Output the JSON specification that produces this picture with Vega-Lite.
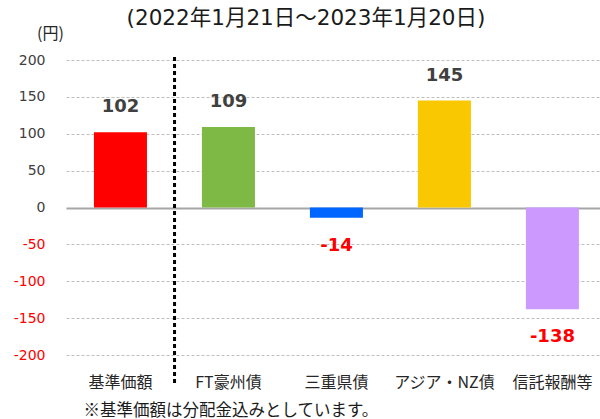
{
  "$schema": "https://vega.github.io/schema/vega-lite/v6.json",
  "width": 534,
  "height": 295,
  "autosize": {"type": "none"},
  "padding": {"top": 60, "left": 66, "right": 0, "bottom": 64},
  "background": "white",
  "title": {
    "text": "(2022年1月21日～2023年1月20日)",
    "font": "DejaVu Sans, Noto Sans CJK JP",
    "fontSize": 21.5,
    "fontWeight": "normal",
    "color": "#1a1a1a",
    "anchor": "middle",
    "dx": -27,
    "offset": -4
  },
  "config": {
    "view": {"stroke": null},
    "axis": {"labelFont": "DejaVu Sans, Noto Sans CJK JP", "titleFont": "Noto Sans CJK JP"}
  },
  "datasets": {
    "bars": [
      {"item": "基準価額", "value": 102},
      {"item": "FT豪州債", "value": 109},
      {"item": "三重県債", "value": -14},
      {"item": "アジア・NZ債", "value": 145},
      {"item": "信託報酬等", "value": -138}
    ],
    "divider": [
      {"item": "基準価額", "top": 204, "bottom": -238}
    ]
  },
  "layer": [
    {
      "data": {"name": "bars"},
      "mark": {"type": "bar"},
      "encoding": {
        "x": {
          "field": "item",
          "type": "nominal",
          "sort": null,
          "scale": {"paddingInner": 0.509, "paddingOuter": 0.227, "align": 0.57},
          "axis": {
            "title": "※基準価額は分配金込みとしています。",
            "titleFont": "Noto Sans CJK JP",
            "titleFontSize": 16.5,
            "titleFontWeight": "normal",
            "titleColor": "#1a1a1a",
            "titleAnchor": "start",
            "titleAlign": "left",
            "titleBaseline": "middle",
            "titleX": 17,
            "titleY": 55,
            "labelAngle": 0,
            "labelFont": "Noto Sans CJK JP",
            "labelFontSize": 16,
            "labelColor": "#262626",
            "labelPadding": 27,
            "labelBaseline": "middle",
            "ticks": false,
            "domain": false,
            "grid": false
          }
        },
        "y": {
          "field": "value",
          "type": "quantitative",
          "scale": {"domain": [-200, 200], "nice": false},
          "axis": {
            "values": [-200, -150, -100, -50, 0, 50, 100, 150, 200],
            "tickCount": 9,
            "labelOverlap": false,
            "labelExpr": "'' + datum.value",
            "title": "(円)",
            "titleAngle": 0,
            "titleFont": "Noto Sans CJK JP",
            "titleFontSize": 16,
            "titleFontWeight": "normal",
            "titleColor": "#262626",
            "titleAlign": "center",
            "titleBaseline": "middle",
            "titleX": -16,
            "titleY": -27,
            "labelFontSize": 14,
            "labelPadding": 21,
            "labelColor": {"condition": {"test": "datum.value < 0", "value": "#FF0000"}, "value": "#404040"},
            "ticks": false,
            "domain": false,
            "grid": true,
            "gridColor": {"condition": {"test": "datum.value === 0", "value": "#A6A6A6"}, "value": "#BFBFBF"},
            "gridDash": {"condition": {"test": "datum.value === 0", "value": []}, "value": [3, 2]},
            "gridWidth": {"condition": {"test": "datum.value === 0", "value": 2}, "value": 1}
          }
        },
        "color": {
          "field": "item",
          "type": "nominal",
          "scale": {
            "domain": ["基準価額", "FT豪州債", "三重県債", "アジア・NZ債", "信託報酬等"],
            "range": ["#FF0000", "#7DB944", "#0066FF", "#F9C800", "#CC99FF"]
          },
          "legend": null
        }
      }
    },
    {
      "data": {"name": "bars"},
      "transform": [{"filter": "datum.value >= 0"}],
      "mark": {"type": "text", "font": "DejaVu Sans", "fontSize": 18, "fontWeight": "bold", "color": "#404040", "baseline": "middle", "dy": -25},
      "encoding": {
        "x": {"field": "item", "type": "nominal", "sort": null},
        "y": {"field": "value", "type": "quantitative"},
        "text": {"field": "value", "type": "nominal"}
      }
    },
    {
      "data": {"name": "bars"},
      "transform": [{"filter": "datum.value < 0"}],
      "mark": {"type": "text", "font": "DejaVu Sans", "fontSize": 18, "fontWeight": "bold", "color": "#FF0000", "baseline": "middle", "dy": 28},
      "encoding": {
        "x": {"field": "item", "type": "nominal", "sort": null},
        "y": {"field": "value", "type": "quantitative"},
        "text": {"field": "value", "type": "nominal"}
      }
    },
    {
      "data": {"name": "divider"},
      "mark": {"type": "rule", "color": "#000000", "strokeWidth": 3, "strokeDash": [4, 3]},
      "encoding": {
        "x": {"field": "item", "type": "nominal", "sort": null, "bandPosition": 1.52},
        "y": {"field": "top", "type": "quantitative"},
        "y2": {"field": "bottom"}
      }
    }
  ]
}
